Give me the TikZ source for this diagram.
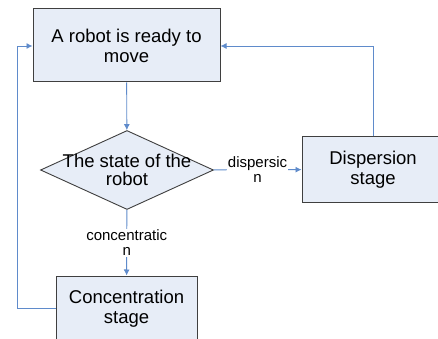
\documentclass[tikz,border=0pt]{standalone}
\usepackage{fontspec}
\setmainfont{Liberation Sans}
\usepackage{xcolor}
\usetikzlibrary{arrows.meta,shapes.geometric}

\definecolor{boxfill}{HTML}{E7EDF7}
\definecolor{boxline}{HTML}{3F3F3F}
\definecolor{linkblue}{HTML}{5F8BCB}

\begin{document}
\begin{tikzpicture}[x=1pt, y=-1pt,
  box/.style={draw=boxline, line width=1pt, fill=boxfill, align=center, inner sep=0pt,
    font=\fontsize{18.5}{20}\selectfont},
  decision/.style={draw=boxline, line width=0.9pt, fill=boxfill, shape=diamond, inner sep=0pt,
    minimum width=173pt, minimum height=79pt},
  flow/.style={-{Latex[length=6pt,width=6pt]}, line width=0.9pt, draw=linkblue},
  back/.style={line width=0.9pt, draw=linkblue},
  edgelabel/.style={font=\fontsize{15}{15}\selectfont, fill=white, align=center, inner sep=1pt}
]
\clip (0,0) rectangle (438,339);
\fill[white] (0,0) rectangle (438,339);

\node[box, minimum width=187pt, minimum height=73pt] (ready) at (126.5,45.5) {A robot is ready to\\move};
\node[decision, label={[align=center, font=\fontsize{18.5}{17.5}\selectfont]center:{The state of the\\robot}}] (state) at (127,170) {};
\node[box, minimum width=142pt, minimum height=65pt] (disp) at (373,169.5) {Dispersion\\stage};
\node[box, minimum width=141pt, minimum height=65pt] (conc) at (126.5,308.5) {Concentration\\stage};

\coordinate (rturn) at (disp.north |- 0,46);
\coordinate (lbot) at (17,308);
\coordinate (ltop) at (17,46);

\draw[flow] (ready) -- (state);
\draw[flow] (state) -- node[edgelabel]{dispersic\\n} (disp);
\draw[flow] (state) -- node[edgelabel]{concentratic\\n} (conc);
\draw[back] (conc.west |- lbot) -- (lbot) -- (ltop);
\draw[flow] (ltop) -- (ready.west |- ltop);
\draw[back] (disp.north) -- (rturn);
\draw[flow] (rturn) -- (ready.east |- rturn);
\end{tikzpicture}
\end{document}
